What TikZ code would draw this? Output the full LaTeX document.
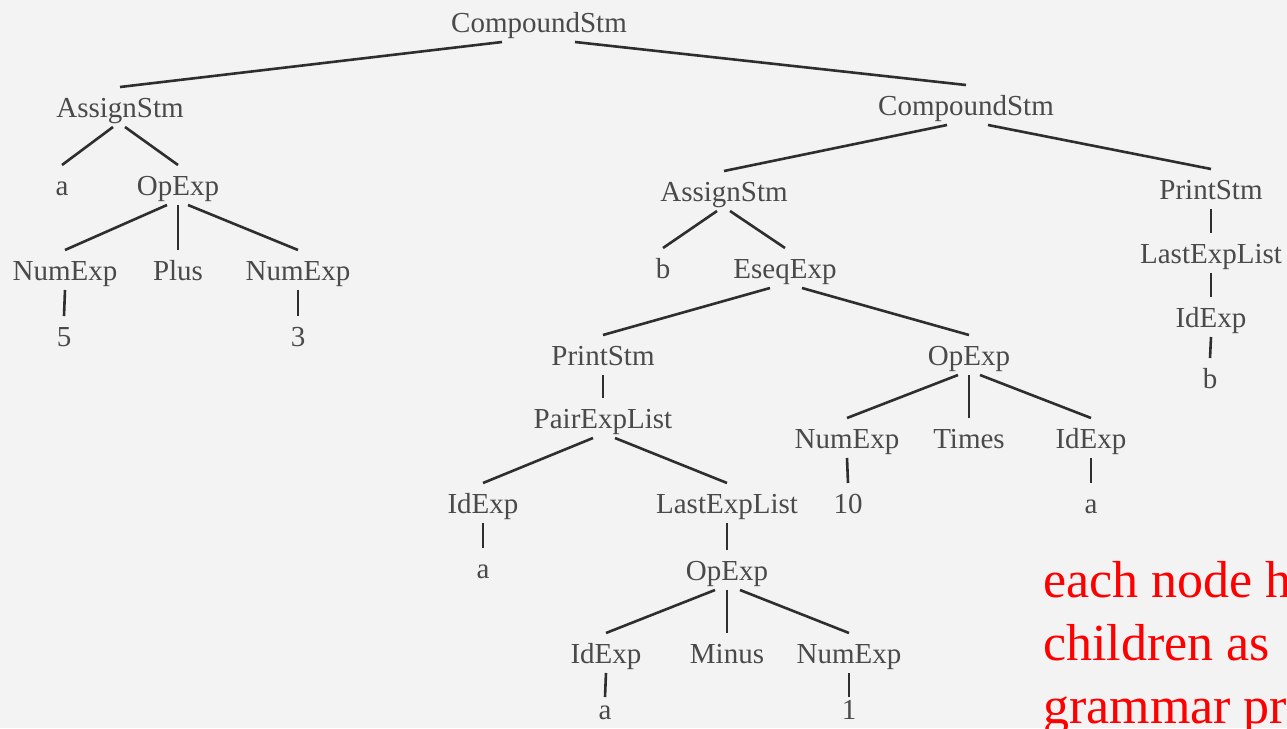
\documentclass[tikz,border=0pt]{standalone}
\usepackage{fontspec}
\setmainfont{Liberation Serif}
\definecolor{bg}{HTML}{F3F3F3}
\definecolor{txt}{HTML}{4A4A4A}
\definecolor{ln}{HTML}{2E2E2E}
\tikzset{
  tn/.style={anchor=base, inner sep=0pt, outer xsep=0pt, outer ysep=8pt,
    text height=22pt, text depth=2pt, text=txt,
    font=\fontsize{29}{34}\selectfont},
  lowleaf/.style={tn, text height=15pt, text depth=0pt, outer ysep=7pt},
  edge/.style={draw=ln, line width=2.6pt},
  note/.style={anchor=base west, inner sep=0pt, text=red,
    font=\fontsize{52}{63}\selectfont}
}
\begin{document}
\begin{tikzpicture}[x=1pt,y=-1pt]
\useasboundingbox (0,0) rectangle (1287,728);
\clip (0,0) rectangle (1287,728);
\fill[bg] (0,0) rectangle (1287,728);
% left subtree
\node[tn] (root) at (539,32) {CompoundStm};
\node[tn] (as1) at (120,117) {AssignStm};
\node[tn] (a1) at (62,195) {a};
\node[tn] (op1) at (178,195) {OpExp};
\node[tn] (ne1) at (65,280) {NumExp};
\node[tn] (plus) at (178,280) {Plus};
\node[tn] (ne2) at (298,280) {NumExp};
\node[tn] (n5) at (64,346) {5};
\node[tn] (n3) at (298,346) {3};
% right compound
\node[tn] (cs2) at (966,115) {CompoundStm};
\node[tn] (as2) at (724,201) {AssignStm};
\node[tn] (b1) at (663,278) {b};
\node[tn] (eseq) at (785,278) {EseqExp};
\node[tn] (ps1) at (603,365) {PrintStm};
\node[tn] (pel) at (603,428) {PairExpList};
\node[tn] (id1) at (483,513) {IdExp};
\node[tn] (a2) at (483,578) {a};
\node[tn] (lel1) at (727,513) {LastExpList};
\node[tn] (op3) at (727,580) {OpExp};
\node[tn] (id4) at (606,663) {IdExp};
\node[tn] (minus) at (727,663) {Minus};
\node[tn] (ne4) at (849,663) {NumExp};
\node[lowleaf] (a3) at (605,719) {a};
\node[lowleaf] (one) at (849,719) {1};
\node[tn] (op2) at (969,365) {OpExp};
\node[tn] (ne3) at (847,448) {NumExp};
\node[tn] (times) at (969,448) {Times};
\node[tn] (id2) at (1091,448) {IdExp};
\node[tn] (ten) at (848,513) {10};
\node[tn] (a4) at (1091,513) {a};
\node[tn] (ps2) at (1211,199) {PrintStm};
\node[tn] (lel2) at (1211,263) {LastExpList};
\node[tn] (id3) at (1211,327) {IdExp};
\node[tn] (b2) at (1210,388) {b};
% edges
\draw[edge] ([xshift=-37pt]root.south) -- (as1.north);
\draw[edge] ([xshift=36pt]root.south) -- (cs2.north);
\draw[edge] ([xshift=-7pt]as1.south) -- (a1.north);
\draw[edge] ([xshift=5pt]as1.south) -- (op1.north);
\draw[edge] ([xshift=-11pt]op1.south) -- (ne1.north);
\draw[edge] (op1.south) -- (plus.north);
\draw[edge] ([xshift=10pt]op1.south) -- (ne2.north);
\draw[edge] (ne1.south) -- (n5.north);
\draw[edge] (ne2.south) -- (n3.north);
\draw[edge] ([xshift=-19pt]cs2.south) -- (as2.north);
\draw[edge] ([xshift=22pt]cs2.south) -- (ps2.north);
\draw[edge] (ps2.south) -- (lel2.north);
\draw[edge] (lel2.south) -- (id3.north);
\draw[edge] (id3.south) -- (b2.north);
\draw[edge] ([xshift=-7pt]as2.south) -- (b1.north);
\draw[edge] ([xshift=6pt]as2.south) -- (eseq.north);
\draw[edge] ([xshift=-15pt]eseq.south) -- (ps1.north);
\draw[edge] ([xshift=17pt]eseq.south) -- (op2.north);
\draw[edge] (ps1.south) -- (pel.north);
\draw[edge] ([xshift=-10pt]pel.south) -- (id1.north);
\draw[edge] ([xshift=12pt]pel.south) -- (lel1.north);
\draw[edge] ([xshift=-11pt]op2.south) -- (ne3.north);
\draw[edge] (op2.south) -- (times.north);
\draw[edge] ([xshift=11pt]op2.south) -- (id2.north);
\draw[edge] (ne3.south) -- (ten.north);
\draw[edge] (id2.south) -- (a4.north);
\draw[edge] (id1.south) -- (a2.north);
\draw[edge] (lel1.south) -- (op3.north);
\draw[edge] ([xshift=-12pt]op3.south) -- (id4.north);
\draw[edge] (op3.south) -- (minus.north);
\draw[edge] ([xshift=13pt]op3.south) -- (ne4.north);
\draw[edge] (id4.south) -- (a3.north);
\draw[edge] (ne4.south) -- (one.north);
% red note
\node[note] (n1) at (1043,597) {each node h};
\node[note] (n2) at (1043,660) {children as};
\node[note] (n3b) at (1043,723) {grammar pr};
\end{tikzpicture}
\end{document}
